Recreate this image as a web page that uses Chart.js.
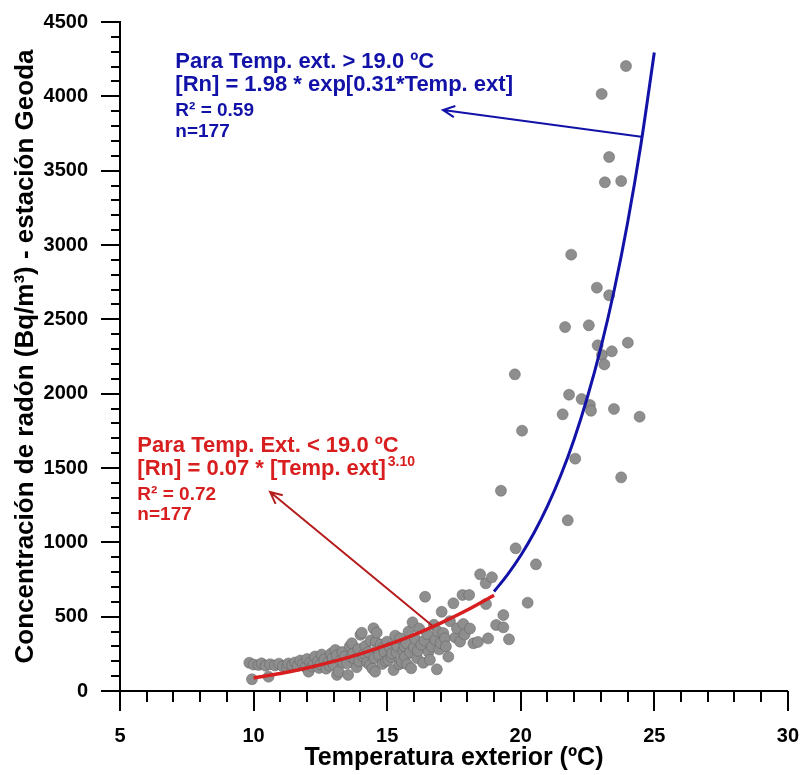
<!DOCTYPE html>
<html>
<head>
<meta charset="utf-8">
<script src="https://cdn.jsdelivr.net/npm/chart.js@4.4.0/dist/chart.umd.min.js"></script>
<style>
  html, body { margin: 0; padding: 0; background: #fff; }
  #wrap { width: 802px; height: 775px; }
</style>
</head>
<body>
<div id="wrap"><canvas id="chart" width="802" height="775"></canvas></div>
<script>
// measured points: outdoor temperature (ºC) and radon (Bq/m3)
const tempExt = [
  9.84, 9.94, 10.0, 10.19, 10.3, 10.45, 10.56, 10.62, 10.8, 10.95, 11.1, 11.25, 11.3, 11.45, 11.55,
  11.65, 11.75, 11.85, 11.95, 12.0, 12.06, 12.12, 12.2, 12.25, 12.3, 12.4, 12.45, 12.5, 12.55, 12.65,
  12.72, 12.8, 12.85, 12.9, 12.96, 13.0, 13.06, 13.12, 13.12, 13.18, 13.25, 13.32, 13.35, 13.42, 13.5,
  13.54, 13.6, 13.65, 13.68, 13.72, 13.8, 13.86, 13.92, 13.95, 14.0, 14.05, 14.1, 14.15, 14.18, 14.25,
  14.3, 14.35, 14.38, 14.45, 14.49, 14.52, 14.55, 14.58, 14.61, 14.65, 14.7, 14.76, 14.82, 14.85, 14.9,
  14.95, 15.0, 15.04, 15.1, 15.15, 15.18, 15.24, 15.3, 15.35, 15.38, 15.45, 15.49, 15.55, 15.6, 15.65,
  15.67, 15.72, 15.75, 15.8, 15.86, 15.9, 15.95, 16.0, 16.05, 16.12, 16.15, 16.2, 16.28, 16.35, 16.4,
  16.42, 16.5, 16.55, 16.6, 16.67, 16.75, 16.8, 16.86, 16.9, 16.95, 17.0, 17.04, 17.1, 17.17, 17.2,
  17.29, 17.35, 17.48, 17.55, 17.61, 17.73, 17.82, 17.85, 17.9, 18.07, 18.1, 18.23, 18.4, 18.48, 18.69,
  18.7, 18.78, 18.92, 19.08, 19.26, 19.35, 19.35, 19.56, 19.78, 19.81, 20.05, 20.26, 20.57, 21.57, 21.66,
  21.76, 21.81, 21.89, 22.04, 22.28, 22.55, 22.59, 22.63, 22.85, 22.88, 23.03, 23.04, 23.13, 23.15, 23.31,
  23.31, 23.41, 23.49, 23.76, 23.76, 23.94, 24.01, 24.45
];
const radon = [
  190, 79, 178, 175, 186, 170, 96, 180, 172, 184, 166, 163, 185, 175, 192,
  170, 205, 182, 160, 215, 130, 190, 165, 185, 232, 198, 155, 178, 245, 212,
  150, 195, 170, 252, 222, 176, 276, 108, 240, 130, 205, 262, 190, 232, 186,
  108, 300, 230, 321, 252, 212, 160, 282, 200, 378, 392, 232, 250, 302, 192,
  262, 175, 340, 150, 422, 222, 130, 330, 392, 282, 242, 312, 182, 290, 262,
  200, 332, 208, 292, 230, 252, 141, 372, 260, 302, 180, 354, 195, 272, 300,
  231, 322, 180, 400, 260, 153, 462, 292, 350, 222, 270, 420, 312, 190, 340,
  634, 382, 262, 210, 298, 445, 343, 146, 400, 280, 322, 533, 390, 354, 300,
  231, 470, 590, 360, 422, 332, 646, 451, 380, 646, 420, 321, 330, 785, 724,
  585, 354, 765, 444, 1347, 511, 428, 348, 2130, 960, 1751, 594, 852, 1861, 2448,
  1148, 1993, 2935, 1563, 1964, 2460, 1924, 1885, 2713, 2325, 4016, 2260, 2197, 3422, 3592,
  2662, 2285, 1897, 3430, 1437, 4204, 2343, 1845
];

// fitted curves
const lowFitTemp  = [10, 11, 12, 13, 14, 15, 16, 17, 18, 19];
const lowFitRadon = [88, 118, 155, 199, 250, 310, 378, 457, 545, 644];
const highFitTemp  = [19, 19.5, 20, 20.5, 21, 21.5, 22, 22.5, 23, 23.5, 24, 24.5, 25];
const highFitRadon = [669, 781, 911, 1064, 1243, 1451, 1694, 1979, 2310, 2697, 3150, 3678, 4295];

const xRange = [5, 30];
const yRange = [0, 4500];

const FONT = "'Liberation Sans', Arial, Helvetica, sans-serif";
const BLUE = '#1212a8';
const RED = '#d81e1e';

function pts(xs, ys) {
  return xs.map((x, i) => ({ x: x, y: ys[i] }));
}

const extras = {
  id: 'extras',
  afterDraw(chart) {
    const ctx = chart.ctx;
    const xs = chart.scales.x, ys = chart.scales.y;
    const px = v => xs.getPixelForValue(v);
    const py = v => ys.getPixelForValue(v);
    const area = chart.chartArea;

    ctx.save();
    // minor / major tick marks (pointing outwards)
    ctx.strokeStyle = '#000';
    ctx.lineWidth = 2;
    ctx.beginPath();
    for (let v = xRange[0]; v <= xRange[1]; v += 1) {
      const p = Math.round(px(v));
      const len = v % 5 === 0 ? 20 : 11;
      ctx.moveTo(p, area.bottom);
      ctx.lineTo(p, area.bottom + len);
    }
    for (let v = yRange[0]; v <= yRange[1]; v += 100) {
      const p = Math.round(py(v));
      const len = v % 500 === 0 ? 19 : 9;
      ctx.moveTo(area.left, p);
      ctx.lineTo(area.left - len, p);
    }
    ctx.stroke();

    // arrows
    function arrow(x0, y0, x1, y1, color) {
      const a = px(x0), b = py(y0), c = px(x1), d = py(y1);
      const ang = Math.atan2(d - b, c - a);
      ctx.strokeStyle = color;
      ctx.lineWidth = 2;
      ctx.beginPath();
      ctx.moveTo(a, b);
      ctx.lineTo(c, d);
      ctx.moveTo(c - 13 * Math.cos(ang - 0.45), d - 13 * Math.sin(ang - 0.45));
      ctx.lineTo(c, d);
      ctx.lineTo(c - 13 * Math.cos(ang + 0.45), d - 13 * Math.sin(ang + 0.45));
      ctx.stroke();
    }
    arrow(24.58, 3726, 17.09, 3908, BLUE);
    arrow(16.68, 440, 10.62, 1338, '#b51c1c');

    // equation notes
    ctx.textBaseline = 'alphabetic';
    ctx.textAlign = 'left';
    ctx.fillStyle = BLUE;
    let tx = px(7.07);
    ctx.font = 'bold 22px ' + FONT;
    ctx.fillText('Para Temp. ext. > 19.0 ºC', tx, py(4190));
    ctx.fillText('[Rn] = 1.98 * exp[0.31*Temp. ext]', tx, py(4036));
    ctx.font = 'bold 19px ' + FONT;
    ctx.fillText('R² = 0.59', tx, py(3868));
    ctx.fillText('n=177', tx, py(3726));

    ctx.fillStyle = RED;
    tx = px(5.65);
    ctx.font = 'bold 22px ' + FONT;
    ctx.fillText('Para Temp. Ext. < 19.0 ºC', tx, py(1608));
    const l2 = '[Rn] = 0.07 * [Temp. ext]';
    ctx.fillText(l2, tx, py(1453));
    const w2 = ctx.measureText(l2).width;
    ctx.font = 'bold 14px ' + FONT;
    ctx.fillText('3.10', tx + w2 + 2, py(1453) - 9);
    ctx.font = 'bold 19px ' + FONT;
    ctx.fillText('R² = 0.72', tx, py(1285));
    ctx.fillText('n=177', tx, py(1150));
    ctx.restore();
  }
};

new Chart(document.getElementById('chart'), {
  type: 'scatter',
  data: {
    datasets: [
      {
        type: 'line',
        data: pts(lowFitTemp, lowFitRadon),
        borderColor: RED,
        borderWidth: 3.5,
        pointRadius: 0,
        cubicInterpolationMode: 'monotone',
        order: 0
      },
      {
        type: 'line',
        data: pts(highFitTemp, highFitRadon),
        borderColor: BLUE,
        borderWidth: 3,
        pointRadius: 0,
        cubicInterpolationMode: 'monotone',
        order: 0
      },
      {
        data: pts(tempExt, radon),
        backgroundColor: '#8e8e8e',
        borderColor: 'rgba(95,95,95,0.7)',
        borderWidth: 0.7,
        pointRadius: 5.5,
        order: 1
      }
    ]
  },
  options: {
    responsive: false,
    animation: false,
    devicePixelRatio: 1,
    layout: { padding: { top: 22, right: 14, left: 0, bottom: 0 } },
    plugins: { legend: { display: false }, tooltip: { enabled: false } },
    scales: {
      x: {
        type: 'linear',
        min: xRange[0], max: xRange[1],
        afterFit: s => { s.height = 84; },
        grid: { display: true, drawOnChartArea: false, drawTicks: true, tickLength: 30, tickColor: 'rgba(0,0,0,0)' },
        border: { display: true, color: '#000', width: 2 },
        ticks: {
          stepSize: 5, padding: 3, color: '#000',
          callback: v => String(v),
          font: { family: FONT, size: 20, weight: 'bold' }
        },
        title: {
          display: true, text: 'Temperatura exterior (ºC)', color: '#000',
          padding: { top: 0, bottom: 2 },
          font: { family: FONT, size: 25, weight: 'bold' }
        }
      },
      y: {
        type: 'linear',
        min: yRange[0], max: yRange[1],
        afterFit: s => { s.width = 120; },
        grid: { display: true, drawOnChartArea: false, drawTicks: true, tickLength: 28, tickColor: 'rgba(0,0,0,0)' },
        border: { display: true, color: '#000', width: 2 },
        ticks: {
          stepSize: 500, padding: 4, color: '#000',
          callback: v => String(v),
          font: { family: FONT, size: 20, weight: 'bold' }
        },
        title: {
          display: true, text: 'Concentración de radón (Bq/m³) - estación Geoda', color: '#000',
          padding: { top: 10, bottom: 0 },
          font: { family: FONT, size: 26, weight: 'bold' }
        }
      }
    }
  },
  plugins: [extras]
});
</script>
</body>
</html>
